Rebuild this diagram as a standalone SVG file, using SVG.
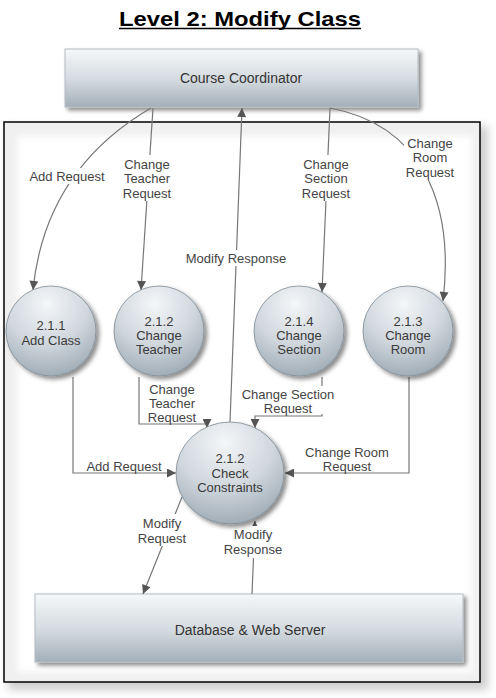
<svg xmlns="http://www.w3.org/2000/svg" width="496" height="698" viewBox="0 0 496 698">
<defs>
<linearGradient id="boxGrad" x1="0" y1="0" x2="0" y2="1">
<stop offset="0" stop-color="#f6f8f9"/>
<stop offset="0.55" stop-color="#d2d9de"/>
<stop offset="1" stop-color="#a3afb9"/>
</linearGradient>
<radialGradient id="circGrad" cx="0.45" cy="0.2" r="0.9">
<stop offset="0" stop-color="#f4f6f8"/>
<stop offset="0.5" stop-color="#d0d7dd"/>
<stop offset="1" stop-color="#93a1ac"/>
</radialGradient>
<filter id="shadow" x="-20%" y="-20%" width="150%" height="150%">
<feDropShadow dx="3" dy="3" stdDeviation="2" flood-color="#000" flood-opacity="0.45"/>
</filter>
<filter id="soft" x="-10%" y="-10%" width="120%" height="120%">
<feGaussianBlur stdDeviation="3"/>
</filter>
<filter id="outer" x="-10%" y="-10%" width="120%" height="120%">
<feGaussianBlur stdDeviation="4"/>
</filter>
<marker id="arr" viewBox="0 0 10 10" refX="10" refY="5" markerWidth="11" markerHeight="9" markerUnits="userSpaceOnUse" orient="auto">
<path d="M0,0 L10,5 L0,10 z" fill="#555"/>
</marker>
<style>
.title{font-family:"Liberation Sans",Arial,sans-serif;font-weight:bold;font-size:21px;fill:#000;}
.node{font-family:"Liberation Sans",Arial,sans-serif;font-size:13px;fill:#3a3a3a;text-anchor:middle;}
.ent{font-family:"Liberation Sans",Arial,sans-serif;font-size:14px;fill:#333;text-anchor:middle;}
.lbl{font-family:"Liberation Sans",Arial,sans-serif;font-size:13px;fill:#444;text-anchor:middle;}
.conn{fill:none;stroke:#777;stroke-width:1.2;}
.box{fill:url(#boxGrad);stroke:#b4bcc3;stroke-width:1;filter:url(#shadow);}
.circ{fill:url(#circGrad);stroke:#7d8a94;stroke-width:0.8;filter:url(#shadow);}
.bg{fill:#fff;}
</style>
</defs>

<rect width="496" height="698" fill="#fff"/>

<g id="title">
<text class="title" x="240" y="26" text-anchor="middle" textLength="242" lengthAdjust="spacingAndGlyphs">Level 2: Modify Class</text>
<line x1="119" y1="28.5" x2="361" y2="28.5" stroke="#000" stroke-width="1.5"/>
</g>

<g id="frame">
<rect x="8" y="126" width="480" height="564" fill="#cfcfcf" filter="url(#outer)"/>
<rect x="4" y="122" width="476" height="560" fill="#f0f0f0"/>
<rect x="18" y="136" width="454" height="536" fill="#fff" filter="url(#soft)"/>
<rect x="4" y="122" width="476" height="560" fill="none" stroke="#000" stroke-width="1.5"/>
</g>

<g id="course-coordinator">
<rect class="box" x="65" y="49" width="353" height="58"/>
<text class="ent" x="241" y="83">Course Coordinator</text>
</g>

<g id="database">
<rect class="box" x="35" y="594" width="428" height="68"/>
<text class="ent" x="250" y="635">Database &amp; Web Server</text>
</g>

<g id="connectors">
<path class="conn" d="M151,108 Q45,170 33,290" marker-end="url(#arr)"/>
<path class="conn" d="M153,108 L141,290" marker-end="url(#arr)"/>
<path class="conn" d="M230,422 L242,108" marker-end="url(#arr)"/>
<path class="conn" d="M330,108 L322,292" marker-end="url(#arr)"/>
<path class="conn" d="M330,108 C420,125 455,200 443,301" marker-end="url(#arr)"/>
<path class="conn" d="M139,377 V424 H207 V428" marker-end="url(#arr)"/>
<path class="conn" d="M322,377 V416 H255 V428" marker-end="url(#arr)"/>
<path class="conn" d="M73,377 V473 H176" marker-end="url(#arr)"/>
<path class="conn" d="M409,377 V473 H285" marker-end="url(#arr)"/>
<path class="conn" d="M182,497 L143,594" marker-end="url(#arr)"/>
<path class="conn" d="M252,594 L255,521" marker-end="url(#arr)"/>

<rect class="bg" x="28" y="168" width="78" height="16"/>
<text class="lbl" x="67" y="180.5">Add Request</text>

<rect class="bg" x="121" y="155" width="52" height="46"/>
<text class="lbl" x="147" y="168.5">Change</text>
<text class="lbl" x="147" y="183">Teacher</text>
<text class="lbl" x="147" y="197.5">Request</text>

<rect class="bg" x="184" y="250" width="104" height="16"/>
<text class="lbl" x="236" y="262.5">Modify Response</text>

<rect class="bg" x="299" y="155" width="54" height="46"/>
<text class="lbl" x="326" y="168.5">Change</text>
<text class="lbl" x="326" y="183">Section</text>
<text class="lbl" x="326" y="197.5">Request</text>

<rect class="bg" x="404" y="137" width="52" height="43"/>
<text class="lbl" x="430" y="147.5">Change</text>
<text class="lbl" x="430" y="161.5">Room</text>
<text class="lbl" x="430" y="176.5">Request</text>

<text class="lbl" x="172" y="393.5">Change</text>
<text class="lbl" x="172" y="407.5">Teacher</text>
<text class="lbl" x="172" y="422">Request</text>

<rect class="bg" x="239" y="386" width="98" height="28"/>
<text class="lbl" x="288" y="398.5">Change Section</text>
<text class="lbl" x="288" y="412.5">Request</text>

<text class="lbl" x="124" y="470.5">Add Request</text>

<text class="lbl" x="347" y="456.5">Change Room</text>
<text class="lbl" x="347" y="470.5">Request</text>

<rect class="bg" x="135" y="514" width="54" height="32"/>
<text class="lbl" x="162" y="527.5">Modify</text>
<text class="lbl" x="162" y="542.5">Request</text>

<rect class="bg" x="223" y="526" width="60" height="32"/>
<text class="lbl" x="253" y="538.5">Modify</text>
<text class="lbl" x="253" y="553.5">Response</text>
</g>

<g id="p211">
<circle class="circ" cx="51" cy="331" r="45"/>
<text class="node" x="51" y="329.5">2.1.1</text>
<text class="node" x="51" y="344.5">Add Class</text>
</g>

<g id="p212">
<circle class="circ" cx="159" cy="331" r="45"/>
<text class="node" x="159" y="325.5">2.1.2</text>
<text class="node" x="159" y="339.5">Change</text>
<text class="node" x="159" y="353.5">Teacher</text>
</g>

<g id="p214">
<circle class="circ" cx="299" cy="331" r="45"/>
<text class="node" x="299" y="325.5">2.1.4</text>
<text class="node" x="299" y="339.5">Change</text>
<text class="node" x="299" y="353.5">Section</text>
</g>

<g id="p213">
<circle class="circ" cx="408" cy="331" r="45"/>
<text class="node" x="408" y="325.5">2.1.3</text>
<text class="node" x="408" y="339.5">Change</text>
<text class="node" x="408" y="353.5">Room</text>
</g>

<g id="check-constraints">
<ellipse class="circ" cx="230" cy="473" rx="54" ry="51"/>
<text class="node" x="230" y="462.5">2.1.2</text>
<text class="node" x="230" y="477.5">Check</text>
<text class="node" x="230" y="491.5">Constraints</text>
</g>
</svg>
